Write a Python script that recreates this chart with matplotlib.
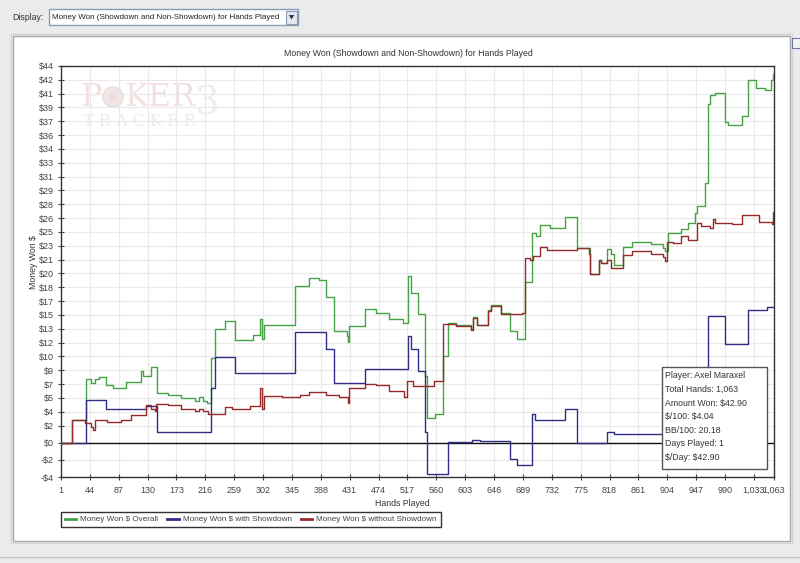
import numpy as np
import matplotlib
matplotlib.use("Agg")
import matplotlib.pyplot as plt
from matplotlib.patches import Rectangle, Polygon, Circle

plt.rcParams['text.parse_math'] = False
plt.rcParams['font.family'] = ['Liberation Sans', 'DejaVu Sans']

# ---------------- data ----------------
title = "Money Won (Showdown and Non-Showdown) for Hands Played"
x_label = "Hands Played"
y_label = "Money Won $"
series_names = ["Money Won $ Overall", "Money Won $ with Showdown", "Money Won $ without Showdown"]

x_ticks = [1, 44, 87, 130, 173, 216, 259, 302, 345, 388, 431, 474, 517, 560, 603,
           646, 689, 732, 775, 818, 861, 904, 947, 990, 1033, 1063]
x_tick_labels = ["1", "44", "87", "130", "173", "216", "259", "302", "345", "388", "431",
                 "474", "517", "560", "603", "646", "689", "732", "775", "818", "861",
                 "904", "947", "990", "1,033", "1,063"]
y_tick_labels = ["$44", "$42", "$41", "$39", "$37", "$36", "$34", "$33", "$31", "$29",
                 "$28", "$26", "$25", "$23", "$21", "$20", "$18", "$17", "$15", "$13",
                 "$12", "$10", "$9", "$7", "$5", "$4", "$2", "$0", "-$2", "-$4"]

overall_hands = [1, 18, 38, 45, 52, 58, 68, 78, 98, 120, 123, 135, 144, 160, 180, 200, 207,
                 213, 218, 224, 231, 246, 260, 287, 298, 301, 304, 330, 350, 370, 385, 396,
                 407, 427, 428, 430, 454, 470, 490, 510, 518, 523, 532, 543, 546, 558, 570,
                 577, 590, 612, 614, 620, 637, 642, 657, 670, 680, 692, 702, 708, 715, 730,
                 752, 769, 789, 802, 806, 814, 820, 824, 838, 851, 880, 898, 901, 905, 925,
                 935, 945, 948, 960, 964, 968, 975, 990, 995, 1015, 1025, 1036, 1050, 1058,
                 1061, 1063]
overall_vals = [0, 2.7, 7.5, 7.0, 7.4, 7.7, 6.7, 6.4, 7.1, 8.4, 7.8, 8.9, 5.85, 5.6, 5.2, 4.9,
                5.3, 4.9, 4.6, 9.9, 13.3, 14.2, 12.0, 12.6, 14.4, 12.1, 13.8, 13.7, 18.3, 19.2,
                19.0, 17.0, 13.0, 12.5, 11.8, 13.6, 15.6, 15.2, 14.5, 14.0, 19.5, 17.5, 15.0,
                7.8, 2.9, 3.4, 10.1, 14.0, 13.7, 13.3, 14.7, 13.8, 15.5, 16.1, 15.1, 13.0,
                12.1, 18.8, 24.5, 24.2, 25.4, 25.1, 26.4, 22.7, 19.7, 21.4, 21.0, 22.6, 22.0,
                20.8, 22.9, 23.4, 23.2, 22.8, 22.4, 24.5, 25.0, 25.7, 26.8, 27.6, 30.3, 39.6,
                40.6, 40.9, 37.5, 37.1, 38.2, 42.4, 41.4, 41.2, 42.4, 43.1, 42.9]

showdown_hands = [1, 38, 68, 128, 144, 224, 231, 260, 350, 396, 407, 454, 518, 523, 532, 543,
                  546, 577, 613, 625, 670, 680, 702, 707, 752, 769, 814, 824, 948, 960, 964,
                  990, 1025, 1052, 1063]
showdown_vals = [0, 5.0, 3.9, 4.3, 1.3, 6.4, 10.0, 8.1, 12.9, 10.9, 7.0, 8.6, 12.5, 10.9, 8.4,
                 1.2, -3.7, 0.1, 0.3, 0.15, -1.9, -2.6, 3.3, 2.65, 4.0, 0.0, 1.3, 1.0, 1.9,
                 5.0, 14.8, 11.5, 15.5, 15.9, 15.9]

nonsd_hands = [1, 18, 37, 45, 48, 52, 70, 90, 105, 128, 135, 141, 143, 160, 180, 200, 207, 213,
               220, 246, 255, 282, 298, 301, 304, 330, 357, 370, 395, 415, 428, 430, 454, 470,
               490, 512, 516, 525, 556, 570, 590, 612, 614, 620, 637, 642, 657, 688, 692, 700,
               704, 715, 725, 769, 787, 789, 802, 806, 814, 820, 838, 851, 880, 898, 901, 903,
               912, 925, 935, 948, 955, 968, 972, 975, 1000, 1015, 1040, 1060, 1061, 1063]
nonsd_vals = [0, 2.7, 2.3, 1.8, 1.5, 2.6, 2.4, 2.7, 3.2, 4.4, 3.9, 3.7, 4.5, 4.4, 4.0, 3.7,
              4.0, 3.7, 3.4, 4.2, 3.9, 4.3, 6.4, 3.9, 5.5, 5.3, 5.6, 5.9, 5.6, 5.4, 4.6, 6.4,
              6.9, 6.7, 6.0, 5.4, 7.2, 6.6, 7.2, 13.9, 13.6, 13.2, 14.6, 13.7, 15.4, 16.0, 15.0,
              15.2, 21.6, 21.4, 21.8, 22.9, 22.5, 22.7, 22.1, 19.7, 21.4, 21.0, 21.4, 20.4,
              21.9, 22.4, 22.0, 21.7, 21.2, 23.5, 23.3, 24.1, 23.7, 25.7, 25.3, 25.1, 26.1,
              25.7, 25.5, 26.6, 25.8, 25.6, 27.0, 27.0]

info_lines = ["Player: Axel Maraxel", "Total Hands: 1,063", "Amount Won: $42.90",
              "$/100: $4.04", "BB/100: 20.18", "Days Played: 1", "$/Day: $42.90"]
display_label = "Display:"
display_choice = "Money Won (Showdown and Non-Showdown) for Hands Played"

# ---------------- figure ----------------
W, H = 800, 563
fig = plt.figure(figsize=(8, 5.63), dpi=100)
fig.patch.set_facecolor('#ebebee')

def fx(x):
    return x / W

def fy(y):
    return 1 - y / H

bg = fig.add_axes([0, 0, 1, 1], zorder=0)
bg.set_xlim(0, W); bg.set_ylim(H, 0); bg.axis('off')
# white panel
bg.add_patch(Rectangle((13, 36), 777, 505, facecolor='white', edgecolor='#a8a8ac', lw=1))
bg.add_patch(Rectangle((11, 34), 781, 509, facecolor='none', edgecolor='#d4d4d8', lw=1))
bg.axhline(557, color='#c8c8cc', lw=1)
# dropdown
bg.add_patch(Rectangle((49, 9), 249, 16, facecolor='white', edgecolor='#8a9bb4', lw=1))
bg.add_patch(Rectangle((286, 10.5), 11, 13, facecolor='#e4e8f0', edgecolor='#8a9bb4', lw=0.8))
bg.add_patch(Polygon([[288.8, 15], [294.2, 15], [291.5, 19.5]], closed=True,
                     facecolor='#333355', edgecolor='none'))
bg.text(12, 17.5, display_label, fontsize=6.3, color='#333333', va='center', ha='left')
bg.text(52, 17.5, display_choice, fontsize=5.8, color='#222222', va='center', ha='left')
# small icon top right
bg.add_patch(Rectangle((792, 38), 8, 10, facecolor='#f4f4f6', edgecolor='#6a7aa0', lw=0.8))
# watermark
bg.text(80, 97, "P", fontsize=23, family='DejaVu Serif', color='#f3e0e0', va='center', ha='left')
bg.add_patch(Circle((113, 97), 10, facecolor='#f1e6e6', edgecolor='#ead8d8', lw=1))
bg.add_patch(Circle((113, 97), 4.5, facecolor='#e9dcdc', edgecolor='none'))
bg.text(124, 97, "KER", fontsize=23, family='DejaVu Serif', color='#f3e0e0', va='center', ha='left')
bg.text(83, 122, "T R A C K E R", fontsize=11.5, family='DejaVu Serif', color='#eeeaea',
        va='center', ha='left')
bg.text(195, 104, "3", fontsize=28, family='DejaVu Serif', color='#e9f0ea', va='center',
        ha='left')

# main axes
left, right, top, bottom = 61, 774, 66, 477
ax = fig.add_axes([fx(left), fy(bottom), (right - left) / W, (bottom - top) / H], zorder=2)
ax.set_facecolor('none')
ax.set_xlim(1, 1063)
ax.set_ylim(-4, 44)

y_tick_pos = list(np.linspace(44, 2, 27)) + [0, -2, -4]
ax.set_yticks(y_tick_pos)
ax.set_yticklabels(y_tick_labels)
ax.set_xticks(x_ticks)
ax.set_xticklabels(x_tick_labels)
ax.tick_params(axis='both', labelsize=6.5, colors='#444444', length=5, width=0.8,
               direction='inout', pad=2.5)
ax.tick_params(axis='x', pad=4)
ax.grid(True, color='#e9e9e9', lw=0.8)
ax.set_axisbelow(True)
for s in ax.spines.values():
    s.set_color('#333333')
    s.set_linewidth(1)
ax.axhline(0, color='#111111', lw=1, zorder=1)

c_green, c_blue, c_red = '#45a345', '#2e2e86', '#962a2a'
l1, = ax.plot(overall_hands, overall_vals, drawstyle='steps-post', color=c_green, lw=1,
              label=series_names[0], zorder=3)
l2, = ax.plot(showdown_hands, showdown_vals, drawstyle='steps-post', color=c_blue, lw=1,
              label=series_names[1], zorder=4)
l3, = ax.plot(nonsd_hands, nonsd_vals, drawstyle='steps-post', color=c_red, lw=1,
              label=series_names[2], zorder=5)

# titles
fig.text(fx(408), fy(53), title, fontsize=6.3, color='#333333', ha='center', va='center')
fig.text(fx(402), fy(504), x_label, fontsize=6.3, color='#333333', ha='center', va='center')
fig.text(fx(33), fy(262), y_label, fontsize=6.3, color='#333333', ha='center', va='center',
         rotation=90)

# legend
leg = fig.legend(handles=[l1, l2, l3], loc='upper left', bbox_to_anchor=(fx(61), fy(512)),
                 ncol=3, fontsize=5.9, frameon=True, fancybox=False, edgecolor='#333333',
                 handlelength=1.4, handletextpad=0.5, columnspacing=1.1, borderpad=0.45,
                 framealpha=1, borderaxespad=0)
leg.get_frame().set_linewidth(1)
for t in leg.get_texts():
    t.set_color('#444444')
for ln in leg.get_lines():
    ln.set_linewidth(2)

# info box overlay
ov = fig.add_axes([0, 0, 1, 1], zorder=10)
ov.set_xlim(0, W); ov.set_ylim(H, 0); ov.axis('off')
ov.add_patch(Rectangle((662, 367), 105, 102, facecolor='white', edgecolor='#555555', lw=1))
for i, line in enumerate(info_lines):
    ov.text(665, 376 + i * 13.6, line, fontsize=6.3, color='#333333', va='center', ha='left')

fig.savefig('out.png', dpi=100, facecolor=fig.get_facecolor())
